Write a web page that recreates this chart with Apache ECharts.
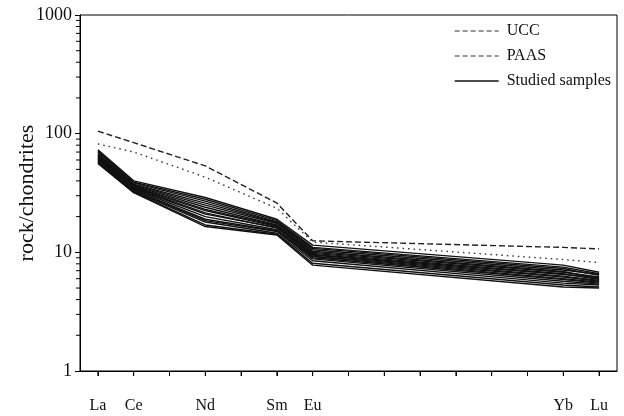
<!DOCTYPE html>
<html><head><meta charset="utf-8">
<script src="https://cdn.jsdelivr.net/npm/echarts@6/dist/echarts.min.js"></script>
<style>html,body{margin:0;padding:0;background:#fff}#c{width:624px;height:416px}</style>
</head><body><div id="c"></div>
<script>
// Categories (REE) and labelled ticks
var categories = ['La','Ce','Pr','Nd','Pm','Sm','Eu','Gd','Tb','Dy','Ho','Er','Tm','Yb','Lu'];
var shownLabels = ['La','Ce','Nd','Sm','Eu','Yb','Lu'];
var yTicks = [1, 10, 100, 1000];

// values given at La, Ce, Nd, Sm, Eu, Yb, Lu
var measured = ['La','Ce','Nd','Sm','Eu','Yb','Lu'];
var ucc  = [105, 84, 53.5, 26, 12.5, 11.0, 10.7];
var paas = [82, 70, 43, 23.5, 12.2, 8.7, 8.2];
var s1  = [73, 40, 29, 19, 11.5, 7.8, 6.8];
var s2  = [71, 39, 28, 18.5, 11.0, 7.5, 6.6];
var s3  = [70, 38.5, 27, 18, 10.8, 7.3, 6.4];
var s4  = [68, 37.5, 26, 17.8, 10.5, 7.1, 6.5];
var s5  = [67, 37, 25, 17.5, 10.2, 6.9, 6.0];
var s6  = [66, 36.5, 24, 17, 10.0, 6.8, 6.2];
var s7  = [65, 36, 23, 16.8, 9.8, 6.6, 5.9];
var s8  = [64, 35.5, 22.5, 16.5, 9.6, 6.5, 6.1];
var s9  = [63, 35, 21.5, 16, 9.5, 6.3, 5.8];
var s10 = [62, 34.5, 21, 16.2, 9.3, 6.2, 5.7];
var s11 = [61, 34, 20, 15.5, 9.2, 6.0, 5.6];
var s12 = [60, 33.5, 19, 15.2, 9.0, 5.9, 5.5];
var s13 = [59, 33, 18.5, 15, 8.8, 5.7, 5.4];
var s14 = [58, 32.5, 18, 14.5, 8.5, 5.5, 5.3];
var s15 = [57, 32, 17, 14.2, 8.1, 5.3, 5.1];
var s16 = [56, 31.8, 16.5, 14, 7.8, 5.1, 5.0];
var samples = [s1,s2,s3,s4,s5,s6,s7,s8,s9,s10,s11,s12,s13,s14,s15,s16];

function expand(vals){
  return categories.map(function(c){
    var i = measured.indexOf(c);
    return i >= 0 ? vals[i] : null;
  });
}

var serif = 'Liberation Serif';
var chart = echarts.init(document.getElementById('c'));
var series = [
  {name:'UCC', type:'line', data:expand(ucc), connectNulls:true, symbol:'none',
   itemStyle:{color:'#222'},
   lineStyle:{color:'#222', width:1.4, type:[6,3]}, z:3, silent:true},
  {name:'PAAS', type:'line', data:expand(paas), connectNulls:true, symbol:'none',
   itemStyle:{color:'#333'},
   lineStyle:{color:'#333', width:1.4, type:[1.5,4]}, z:3, silent:true}
];
samples.forEach(function(s){
  series.push({name:'Studied samples', type:'line', data:expand(s), connectNulls:true, symbol:'none',
    itemStyle:{color:'#111'},
    lineStyle:{color:'#111', width:1.4, type:'solid'}, silent:true});
});

var GL = 80, GR = 7, GT = 15, GB = 45;
chart.setOption({
  animation:false,
  backgroundColor:'#fff',
  grid:{left:GL, right:GR, top:GT, bottom:GB, show:true, borderColor:'#000', borderWidth:1,
        containLabel:false, outerBoundsMode:'none'},
  legend:{
    orient:'vertical', left:449, top:18, itemGap:9, itemWidth:44, itemHeight:16, itemGap:9,
    itemStyle:{opacity:0},
    textStyle:{fontFamily:serif, fontSize:16, color:'#111', padding:[0,0,0,3]},
    data:[
      {name:'UCC', itemStyle:{opacity:0}, lineStyle:{type:[5,3], color:'#333', width:1.2}},
      {name:'PAAS', itemStyle:{opacity:0}, lineStyle:{type:[5,3], color:'#333', width:1.2}},
      {name:'Studied samples', itemStyle:{opacity:0}, lineStyle:{type:'solid', color:'#111', width:1.3}}
    ]
  },
  xAxis:{
    type:'category', data:categories, boundaryGap:true,
    axisLine:{show:true, lineStyle:{color:'#000', width:1}},
    axisTick:{show:true, alignWithLabel:true, interval:0, length:5, lineStyle:{color:'#000', width:1}},
    axisLabel:{show:true, interval:0, margin:27, fontFamily:serif, fontSize:16, color:'#111',
      formatter:function(v){ return shownLabels.indexOf(v) >= 0 ? v : ''; }},
    splitLine:{show:false}
  },
  yAxis:{
    type:'log', logBase:10, min:yTicks[0], max:yTicks[yTicks.length-1],
    name:'rock/chondrites', nameLocation:'middle', nameGap:42, nameMoveOverlap:false,
    nameTextStyle:{fontFamily:serif, fontSize:22, color:'#111'},
    axisLine:{show:true, lineStyle:{color:'#000', width:1}},
    axisTick:{show:true, length:5, lineStyle:{color:'#000'}},
    axisLabel:{fontFamily:serif, fontSize:18, color:'#111', margin:8,
      formatter:function(v){ return String(Math.round(v)); }},
    splitLine:{show:false}
  },
  series:series
});

// minor log ticks (2..9 in each decade) placed via the axis scale
var g = [];
var rect = chart.getModel().getComponent('grid', 0).coordinateSystem.getRect();
var ax = rect.x, ay = rect.y + rect.height;
for (var k = 0; k < yTicks.length - 1; k++) {
  for (var m = 2; m <= 9; m++) {
    var v = m * yTicks[k];
    var py = chart.convertToPixel({yAxisIndex:0}, v);
    g.push({type:'line', shape:{x1:ax-4, y1:py, x2:ax, y2:py}, style:{stroke:'#000', lineWidth:1}, silent:true});
  }
}
// x ticks at every category, placed via the axis scale
for (var i = 0; i < categories.length; i++) {
  var px = chart.convertToPixel({xAxisIndex:0}, categories[i]);
  g.push({type:'line', shape:{x1:px, y1:ay, x2:px, y2:ay+5}, style:{stroke:'#000', lineWidth:1}, silent:true});
}
chart.setOption({graphic:g});
</script></body></html>
